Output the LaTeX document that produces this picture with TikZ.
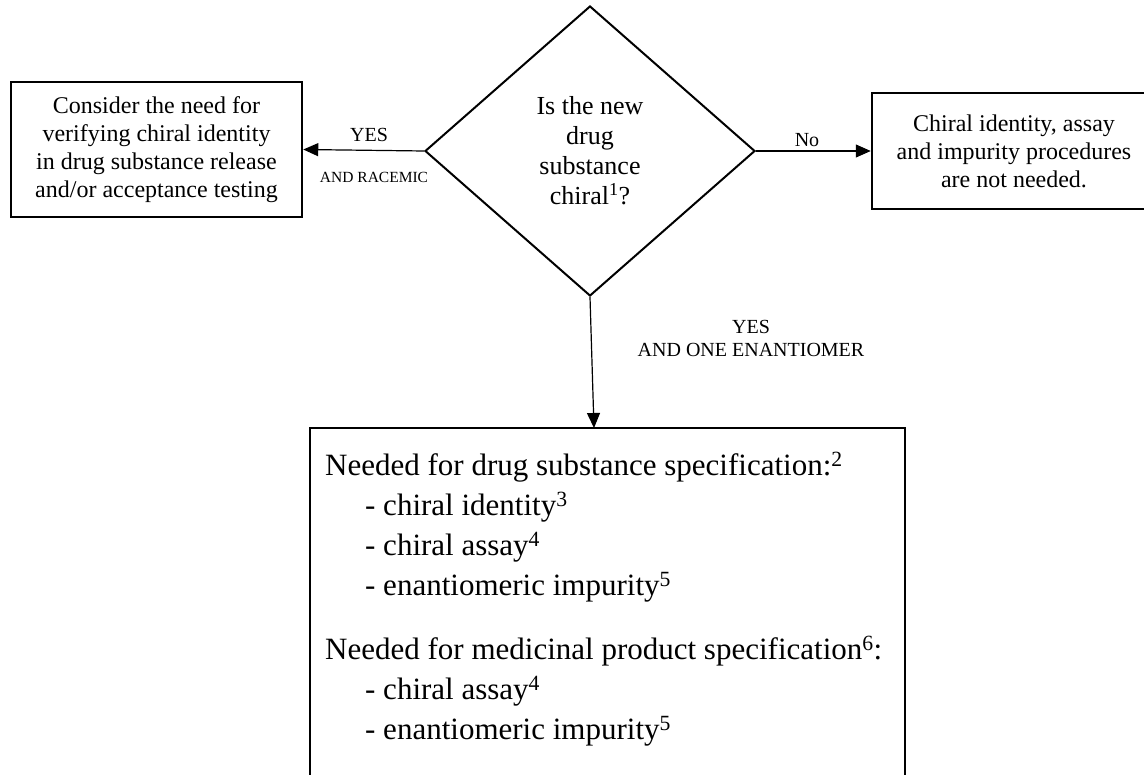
\documentclass[tikz,border=0pt]{standalone}
\usepackage{fontspec}
\setmainfont{Liberation Serif}
\usetikzlibrary{shapes.geometric,arrows.meta}
\begin{document}
\begin{tikzpicture}[x=1pt,y=-1pt,
  box/.style={draw, line width=2.5pt, inner sep=0pt},
  arr/.style={line width=1.2pt, -{Triangle[length=15pt,width=13pt]}},
  lbl/.style={inner sep=0pt, font=\fontsize{20}{23}\selectfont}]
\useasboundingbox (0,0) rectangle (1144,775);
\clip (0,0) rectangle (1144,775);
\node[draw, diamond, line width=2pt, minimum width=330pt, minimum height=290pt,
  align=center, inner sep=0pt, font=\fontsize{26}{30}\selectfont] (q) at (590,151)
  {Is the new\\drug\\substance\\chiral\textsuperscript{1}?};
\node[box, minimum width=291pt, minimum height=135pt, align=center,
  font=\fontsize{24}{28}\selectfont] (left) at (156.5,149.5)
  {Consider the need for\\verifying chiral identity\\in drug substance release\\and/or acceptance testing};
\node[box, minimum width=284pt, minimum height=116pt, align=center,
  font=\fontsize{24}{28}\selectfont] (right) at (1014,151)
  {Chiral identity, assay\\and impurity procedures\\are not needed.};
\node[box, line width=2pt, minimum width=595pt, minimum height=392pt] (spec) at (607.5,624) {};
\node[anchor=north west, align=left, inner sep=0pt, font=\fontsize{31}{40}\selectfont] (spectext) at (325,452)
  {Needed for drug substance specification:\textsuperscript{2}\\
   \hspace*{40pt}- chiral identity\textsuperscript{3}\\
   \hspace*{40pt}- chiral assay\textsuperscript{4}\\
   \hspace*{40pt}- enantiomeric impurity\textsuperscript{5}\\[24pt]
   Needed for medicinal product specification\textsuperscript{6}:\\
   \hspace*{40pt}- chiral assay\textsuperscript{4}\\
   \hspace*{40pt}- enantiomeric impurity\textsuperscript{5}};
\node[lbl] (yesl) at (369,135) {YES};
\node[inner sep=0pt, font=\fontsize{15.5}{18}\selectfont] (racemic) at (374,177) {AND RACEMIC};
\node[lbl] (no) at (807,140) {No};
\node[lbl, align=center] (yesd) at (751,338) {YES\\AND ONE ENANTIOMER};
\coordinate (downend) at (594,428);
\draw[arr] (q.west) -- (left.east);
\draw[arr] (q.east) -- (right.west);
\draw[arr] (q.south) -- (downend);
\end{tikzpicture}
\end{document}
